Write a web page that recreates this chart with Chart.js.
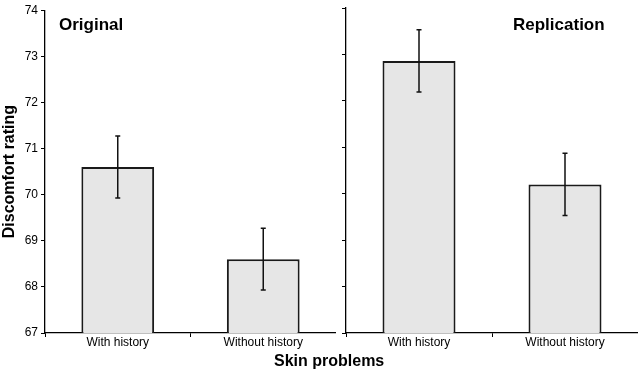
<!DOCTYPE html>
<html>
<head>
<meta charset="utf-8">
<script src="https://cdn.jsdelivr.net/npm/chart.js@4.4.1/dist/chart.umd.min.js"></script>
<style>
    body { margin: 0; background: #fff; font-family: "Liberation Sans", Arial, sans-serif; }
    #wrap { position: relative; width: 638px; height: 370px; }
    canvas { position: absolute; top: 0; }
    .lbl { position: absolute; font-weight: bold; color: #000; white-space: nowrap; }
</style>
</head>
<body>
<div id="wrap">
    <canvas id="chartOriginal" width="336" height="370" style="left:0"></canvas>
    <canvas id="chartReplication" width="302" height="370" style="left:336px"></canvas>
    <div class="lbl" style="left:59px; top:15px; font-size:17px;">Original</div>
    <div class="lbl" style="left:513px; top:15px; font-size:17px;">Replication</div>
    <div class="lbl" style="left:274px; top:352px; font-size:16px;">Skin problems</div>
</div>
<script>
const categories = ["With history", "Without history"];
const originalMeans = [70.6, 68.6];
const originalErrors = [0.67, 0.67];
const replicationMeans = [72.86, 70.2];
const replicationErrors = [0.67, 0.67];
const yTicks = [67, 68, 69, 70, 71, 72, 73, 74];

Chart.defaults.font.family = "'Liberation Sans', Arial, sans-serif";
Chart.defaults.color = "#000";

const errorBarPlugin = {
    id: "errorBars",
    afterDatasetsDraw(chart, args, opts) {
        const ctx = chart.ctx;
        const y = chart.scales.y;
        const meta = chart.getDatasetMeta(0);
        ctx.save();
        ctx.strokeStyle = "#111";
        ctx.lineWidth = 1.5;
        meta.data.forEach((bar, i) => {
            const mean = opts.means[i];
            const err = opts.errors[i];
            const top = y.getPixelForValue(mean + err);
            const bottom = y.getPixelForValue(mean - err);
            ctx.beginPath();
            ctx.moveTo(bar.x, top);
            ctx.lineTo(bar.x, bottom);
            ctx.moveTo(bar.x - 2.5, top);
            ctx.lineTo(bar.x + 2.5, top);
            ctx.moveTo(bar.x - 2.5, bottom);
            ctx.lineTo(bar.x + 2.5, bottom);
            ctx.stroke();
        });
        ctx.restore();
    }
};

function makePanel(canvasId, means, errors, showLabels) {
    const ctx = document.getElementById(canvasId).getContext("2d");
    return new Chart(ctx, {
        type: "bar",
        data: {
            labels: categories,
            datasets: [{
                data: means,
                backgroundColor: "#e6e6e6",
                borderColor: "#1a1a1a",
                borderWidth: 2,
                borderSkipped: "bottom",
                categoryPercentage: 1,
                barPercentage: 0.5
            }]
        },
        options: {
            responsive: false,
            animation: false,
            layout: { padding: { top: 8, right: 0, left: 0, bottom: 0 } },
            plugins: {
                legend: { display: false },
                tooltip: { enabled: false },
                errorBars: { means, errors }
            },
            scales: {
                x: {
                    grid: { display: true, drawOnChartArea: false, drawTicks: true, tickLength: 4, color: "#000", offset: true },
                    border: { display: true, color: "#000", width: 1.3 },
                    ticks: { font: { size: 12 }, padding: -2 },
                    afterFit(scale) { scale.height = 37; }
                },
                y: {
                    min: 67,
                    max: 74,
                    afterBuildTicks(scale) { scale.ticks = yTicks.map(v => ({ value: v })); },
                    grid: { display: true, drawOnChartArea: false, drawTicks: true, tickLength: 4, color: "#000" },
                    border: { display: true, color: "#000", width: 1.3 },
                    ticks: { display: showLabels, font: { size: 12 }, padding: 3 },
                    title: {
                        display: showLabels,
                        text: "Discomfort rating",
                        font: { size: 16, weight: "bold" },
                        padding: { top: 0, bottom: 0 }
                    },
                    afterFit(scale) { scale.width = showLabels ? 45 : 10; }
                }
            }
        },
        plugins: [errorBarPlugin]
    });
}

makePanel("chartOriginal", originalMeans, originalErrors, true);
makePanel("chartReplication", replicationMeans, replicationErrors, false);
</script>
</body>
</html>
